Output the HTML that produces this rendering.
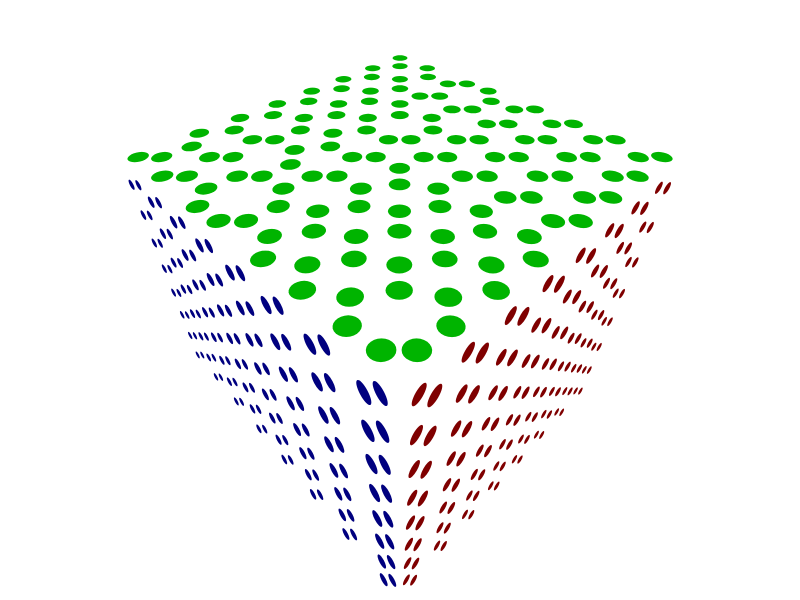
<!DOCTYPE html>
<html><head><meta charset="utf-8"><style>
html,body{margin:0;padding:0;background:#fff;}
svg{display:block;}
</style></head><body>
<svg id="chart" width="800" height="600" viewBox="0 0 800 600" xmlns="http://www.w3.org/2000/svg">
<rect width="800" height="600" fill="#ffffff"/>
<g id="top"></g>
<g id="left"></g>
<g id="right"></g>
</svg>
<script>
// Orientation of each pair on the top face: 1 = pair spread horizontally, 0 = vertically
const topPattern = [
  [0,0,1,0,1,1,1,1],
  [0,0,1,1,1,1,1,1],
  [0,0,0,0,1,1,1,1],
  [0,0,0,1,1,1,1,1],
  [0,0,0,1,0,0,0,0],
  [0,1,0,1,0,0,0,0],
  [0,1,1,0,0,0,0,0],
  [1,1,0,1,0,0,0,1]
];
const gridSize = 8;
const leftRows = [0,1,2,3,4,5,6,7];
const rightRows = [0,1,2,3,4,5,6,7];

const NS = "http://www.w3.org/2000/svg";
function homography(p0,p1,p2,p3){ // (0,0),(1,0),(1,1),(0,1)
  const dx1=p1[0]-p2[0], dx2=p3[0]-p2[0], dy1=p1[1]-p2[1], dy2=p3[1]-p2[1];
  const sx=p0[0]-p1[0]+p2[0]-p3[0], sy=p0[1]-p1[1]+p2[1]-p3[1];
  const den=dx1*dy2-dy1*dx2;
  const g=(sx*dy2-sy*dx2)/den, h=(dx1*sy-dy1*sx)/den;
  const a=p1[0]-p0[0]+g*p1[0], b=p3[0]-p0[0]+h*p3[0], c=p0[0];
  const d=p1[1]-p0[1]+g*p1[1], e=p3[1]-p0[1]+h*p3[1], f=p0[1];
  return function(u,v){const w=g*u+h*v+1;return [(a*u+b*v+c)/w,(d*u+e*v+f)/w];};
}
function scaleAt(H,u,v,step){
  const e=step*0.01;
  const p=H(u,v), pu=H(u+e,v), pv=H(u,v+e);
  const det=((pu[0]-p[0])*(pv[1]-p[1])-(pu[1]-p[1])*(pv[0]-p[0]))/(e*e);
  return Math.sqrt(Math.abs(det))*step;
}
const Htop = homography([400,62],[150,157],[399,350],[650,157]);
const topG = document.getElementById('top');
const step = 1/(gridSize-1);
for(let a=0;a<gridSize;a++){
  for(let b=0;b<gridSize;b++){
    const hz = topPattern[a][b];
    const u=a*step, v=b*step;
    const dir = hz ? [-0.165*step, 0.165*step] : [0.2*step, 0.2*step];
    for(const sgn of [-1,1]){
      const cu=u+sgn*dir[0], cv=v+sgn*dir[1];
      const r=0.2*step;
      let pts=[];
      for(let k=0;k<24;k++){
        const t=k/24*Math.PI*2;
        const p=Htop(cu+r*Math.cos(t)/Math.SQRT2 - r*Math.sin(t)/Math.SQRT2, cv+r*Math.cos(t)/Math.SQRT2 + r*Math.sin(t)/Math.SQRT2);
        pts.push(p[0].toFixed(1)+','+p[1].toFixed(1));
      }
      const el=document.createElementNS(NS,'polygon');
      el.setAttribute('points',pts.join(' '));
      el.setAttribute('fill','#00b400');
      
      
      topG.appendChild(el);
    }
  }
}
function sideFace(gEl, H, rows, color, angle, name){
  for(const i of rows){
    for(let j=0;j<gridSize;j++){
      const u=j*step, v=i*step;
      const c=H(u,v);
      const s=scaleAt(H,u,v,step);
      for(const sgn of [-1,1]){
        const cx=c[0]+sgn*0.17*s, cy=c[1]+sgn*0.01*s;
        const el=document.createElementNS(NS,'ellipse');
        el.setAttribute('cx',cx.toFixed(1));
        el.setAttribute('cy',cy.toFixed(1));
        el.setAttribute('rx',(0.29*s).toFixed(2));
        el.setAttribute('ry',(0.085*s).toFixed(2));
        el.setAttribute('transform','rotate('+angle+' '+cx.toFixed(1)+' '+cy.toFixed(1)+')');
        el.setAttribute('fill',color);
        
        
        gEl.appendChild(el);
      }
    }
  }
}
const Hleft = homography([372,393],[135,185],[200,355],[388,580]);
sideFace(document.getElementById('left'), Hleft, leftRows, '#00007f', 62, 'left-glyph');
const Hright = homography([427,395],[663,188],[578,391],[410,580]);
sideFace(document.getElementById('right'), Hright, rightRows, '#7f0000', -60, 'right-glyph');
</script>
</body></html>
